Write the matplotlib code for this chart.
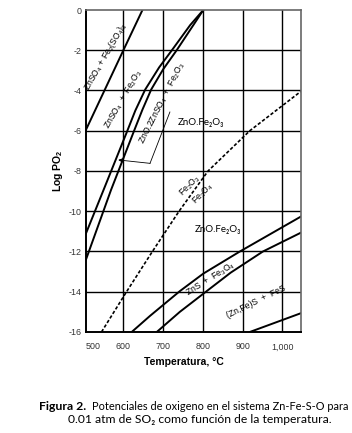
import matplotlib
matplotlib.use("Agg")
import matplotlib.pyplot as plt

plt.rcParams['font.family'] = ['Liberation Sans', 'DejaVu Sans']
plt.rcParams['mathtext.fontset'] = 'custom'
plt.rcParams['mathtext.rm'] = 'Liberation Sans'
plt.rcParams['mathtext.it'] = 'Liberation Sans:italic'
plt.rcParams['mathtext.bf'] = 'Liberation Sans:bold'

# --- data (temperature in C, log PO2) ---
t_sulf = [506, 600, 648]
p_sulf = [-5.95, -2.0, 0.0]

t_a = [506, 550, 608, 630, 655, 690, 722, 768, 801]
p_a = [-11.1, -8.95, -6.1, -5.0, -3.95, -2.85, -2.0, -0.75, 0.0]

t_b = [506, 569, 627, 648, 670, 700, 734, 776, 801]
p_b = [-12.4, -8.94, -6.0, -4.95, -3.95, -2.95, -2.0, -0.75, 0.0]

t_hem = [545, 608, 673, 740, 813, 918, 1046]
p_hem = [-16.0, -14.0, -12.0, -10.0, -8.0, -6.0, -4.05]

t_zns_up = [621, 667, 742, 801, 893, 1046]
p_zns_up = [-16.0, -15.2, -13.97, -13.1, -12.0, -10.27]

t_zns_lo = [684, 742, 801, 870, 951, 1046]
p_zns_lo = [-16.0, -15.0, -14.1, -13.05, -12.0, -11.07]

t_fes = [918, 1046]
p_fes = [-16.0, -15.07]

# leader line for the ZnO.2ZnSO4 field
t_lead = [717, 667]
p_lead = [-5.07, -7.62]
arrow_tip = (587, -7.45)

x_ticks = [506, 600, 700, 800, 900, 1000]
x_labels = ['500', '600', '700', '800', '900', '1,000']
y_ticks = [0, -2, -4, -6, -8, -10, -12, -14, -16]
grid_x = [600, 700, 800, 900, 1000]
grid_y = [-2, -4, -6, -8, -10, -12, -14]

fig = plt.figure(figsize=(3.52, 4.33), dpi=100)
ax = fig.add_axes([0.2443, 0.2333, 0.61, 0.7436])
ax.set_xlim(506, 1046)
ax.set_ylim(-16, 0)

for gx in grid_x:
    ax.axvline(gx, color='black', lw=1.0, zorder=1)
for gy in grid_y:
    ax.axhline(gy, color='black', lw=1.0, zorder=1)

lw = 1.4
ax.plot(t_sulf, p_sulf, color='black', lw=lw)
ax.plot(t_a, p_a, color='black', lw=lw)
ax.plot(t_b, p_b, color='black', lw=lw)
ax.plot(t_hem, p_hem, color='black', lw=1.2, linestyle=(0, (2.0, 1.2)))
ax.plot(t_zns_up, p_zns_up, color='black', lw=lw)
ax.plot(t_zns_lo, p_zns_lo, color='black', lw=lw)
ax.plot(t_fes, p_fes, color='black', lw=lw)

ax.plot(t_lead, p_lead, color='black', lw=0.6)
ax.annotate('', xy=arrow_tip, xytext=(t_lead[-1], p_lead[-1]),
            arrowprops=dict(arrowstyle='-|>', color='black', lw=0.6,
                            mutation_scale=6, shrinkA=0, shrinkB=0))

fs = 6.2
ax.text(556, -2.3, r'ZnSO$_4$ + Fe$_2$(SO$_4$)$_3$', fontsize=fs, rotation=60,
        ha='center', va='center', rotation_mode='anchor')
ax.text(600, -4.42, r'ZnSO$_4$  +  Fe$_2$O$_3$', fontsize=fs, rotation=60,
        ha='center', va='center', rotation_mode='anchor')
ax.text(698, -4.62, r'ZnO.2ZnSO$_4$  +  Fe$_2$O$_3$', fontsize=fs, rotation=63,
        ha='center', va='center', rotation_mode='anchor')
ax.text(768, -8.75, r'Fe$_2$O$_3$', fontsize=fs, rotation=45,
        ha='center', va='center', rotation_mode='anchor')
ax.text(800, -9.15, r'Fe$_3$O$_4$', fontsize=fs, rotation=45,
        ha='center', va='center', rotation_mode='anchor')
ax.text(820, -13.4, r'ZnS  +  Fe$_3$O$_4$', fontsize=fs, rotation=32,
        ha='center', va='center', rotation_mode='anchor')
ax.text(933, -14.5, r'(Zn,Fe)S  +  FeS', fontsize=fs, rotation=26,
        ha='center', va='center', rotation_mode='anchor')

cal = ['Lato', 'DejaVu Sans']
ax.text(737, -5.6, 'ZnO.Fe₂O₃', fontsize=7, family=cal, ha='left', va='center')
ax.text(780, -10.9, 'ZnO.Fe₂O₃', fontsize=7, family=cal, ha='left', va='center')

ax.set_xticks(x_ticks)
ax.set_xticklabels(x_labels)
ax.get_xticklabels()[0].set_ha('left')
ax.set_yticks(y_ticks)
ax.set_yticklabels([str(v) for v in y_ticks])
ax.tick_params(length=0, labelsize=6.4, labelcolor='#333333')
ax.tick_params(axis='x', pad=7.5)
ax.tick_params(axis='y', pad=3.5)

ax.set_xlabel('Temperatura, °C', fontsize=7.5, fontweight='bold')
ax.xaxis.set_label_coords(0.456, -0.078)
ax.set_ylabel(r'Log PO$_\mathbf{2}$', fontsize=7.5, fontweight='bold')
ax.yaxis.set_label_coords(-0.098, 0.5)

for side in ['left', 'bottom']:
    ax.spines[side].set_linewidth(1.4)
    ax.spines[side].set_color('black')
for side in ['top', 'right']:
    ax.spines[side].set_linewidth(1.2)
    ax.spines[side].set_color('#666666')

# caption
H = 433.0
fig.text(39 / 352, 1 - 406 / H, 'Figura 2.', fontsize=8.8, family=cal,
         fontweight='bold', va='center', ha='left')
fig.text(92 / 352, 1 - 406 / H,
         'Potenciales de oxigeno en el sistema Zn-Fe-S-O para',
         fontsize=7.95, family=cal, va='center', ha='left')
fig.text(68 / 352, 1 - 419.5 / H,
         '0.01 atm de SO₂ como función de la temperatura.',
         fontsize=8.7, family=cal, va='center', ha='left')

fig.savefig('out.png', dpi=100)
